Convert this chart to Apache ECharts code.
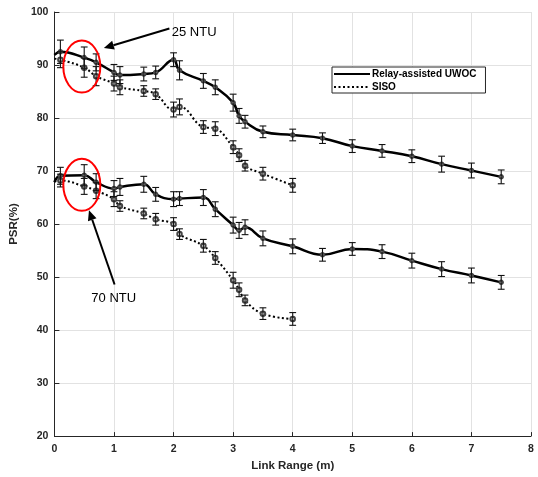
<!DOCTYPE html>
<html>
<head>
<meta charset="UTF-8">
<title>PSR vs Link Range</title>
<script src="https://cdn.jsdelivr.net/npm/echarts@6/dist/echarts.min.js"></script>
<style>
  html, body { margin: 0; padding: 0; background: #fff; }
  #main { width: 538px; height: 477px; }
</style>
</head>
<body>
<div id="main"></div>
<script>
// link range (m)
var xRelay = [0, 0.1, 0.5, 0.7, 1.0, 1.1, 1.5, 1.7, 2.0, 2.1, 2.5, 2.7, 3.0, 3.1, 3.2, 3.5, 4.0, 4.5, 5.0, 5.5, 6.0, 6.5, 7.0, 7.5];
var xSiso = [0, 0.1, 0.5, 0.7, 1.0, 1.1, 1.5, 1.7, 2.0, 2.1, 2.5, 2.7, 3.0, 3.1, 3.2, 3.5, 4.0];

// 25 NTU
var relay25 = [91.9, 92.5, 91.4, 90.5, 88.6, 88.1, 88.3, 88.6, 91.0, 89.0, 87.0, 85.8, 82.9, 80.4, 79.3, 77.4, 76.8, 76.2, 74.7, 73.8, 72.8, 71.3, 70.1, 68.9];
var relay25Err = [null, 2.2, 2.0, 1.6, 1.5, 1.6, 1.3, 1.2, 1.3, 1.8, 1.4, 1.4, 1.6, 1.4, 1.2, 1.1, 1.1, 1.0, 1.2, 1.2, 1.2, 1.5, 1.4, 1.3];
var siso25 = [91.2, 91.0, 89.5, 87.9, 86.5, 85.8, 85.1, 84.5, 81.6, 82.1, 78.3, 78.0, 74.5, 73.0, 71.0, 69.5, 67.3];
var siso25Err = [null, 1.5, 1.8, 1.8, 1.4, 1.4, 1.0, 1.0, 1.4, 1.5, 1.2, 1.3, 1.2, 1.2, 1.0, 1.2, 1.3];

// 70 NTU
var relay70 = [67.9, 69.1, 69.2, 67.9, 66.7, 67.0, 67.5, 65.6, 64.7, 64.8, 65.0, 62.8, 59.8, 58.8, 59.4, 57.3, 55.8, 54.2, 55.3, 54.8, 53.1, 51.5, 50.3, 49.0];
var relay70Err = [null, 1.6, 2.0, 1.6, 1.5, 1.6, 1.5, 1.3, 1.4, 1.3, 1.5, 1.4, 1.5, 1.5, 1.4, 1.4, 1.4, 1.2, 1.2, 1.3, 1.4, 1.4, 1.4, 1.3];
var siso70 = [68.0, 68.2, 67.1, 66.3, 64.7, 63.4, 62.0, 60.9, 60.0, 58.1, 55.9, 53.6, 49.4, 47.6, 45.6, 43.1, 42.1];
var siso70Err = [null, 1.2, 1.5, 1.5, 1.4, 1.0, 1.0, 1.1, 1.2, 1.0, 1.2, 1.2, 1.5, 1.3, 1.0, 1.1, 1.2];

var xTicks = [0, 1, 2, 3, 4, 5, 6, 7, 8];
var yTicks = [20, 30, 40, 50, 60, 70, 80, 90, 100];

// annotations in data units
var ellipses = [
    {x: 0.46, y: 89.7},
    {x: 0.46, y: 67.4}
];
var arrows = [
    {from: [1.93, 96.9], to: [0.83, 93.2], text: '25 NTU', tx: 1.97, ty: 96.1},
    {from: [1.01, 48.6], to: [0.58, 62.6], text: '70 NTU', tx: 0.62, ty: 46.0}
];

var myChart = echarts.init(document.getElementById('main'));

function pairs(xs, ys) {
    var res = [];
    for (var i = 0; i < ys.length; i++) {
        if (i === 0) {
            res.push({value: [xs[i], ys[i]], symbol: 'none'});
        } else {
            res.push([xs[i], ys[i]]);
        }
    }
    return res;
}

function errData(xs, ys, es) {
    var res = [];
    for (var i = 0; i < ys.length; i++) {
        if (es[i] != null) res.push([xs[i], ys[i], es[i]]);
    }
    return res;
}

function renderErr(params, api) {
    var x = api.value(0), y = api.value(1), e = api.value(2);
    var hi = api.coord([x, y + e]);
    var lo = api.coord([x, y - e]);
    var hw = 3.4;
    var st = {stroke: '#111', lineWidth: 1.1};
    return {
        type: 'group',
        children: [
            {type: 'line', shape: {x1: hi[0], y1: hi[1], x2: lo[0], y2: lo[1]}, style: st},
            {type: 'line', shape: {x1: hi[0] - hw, y1: hi[1], x2: hi[0] + hw, y2: hi[1]}, style: st},
            {type: 'line', shape: {x1: lo[0] - hw, y1: lo[1], x2: lo[0] + hw, y2: lo[1]}, style: st}
        ]
    };
}

function solidSeries(data) {
    return {
        name: 'Relay-assisted UWOC',
        type: 'line',
        data: data,
        smooth: 0.45,
        symbol: 'emptyCircle',
        symbolSize: 3.5,
        lineStyle: {color: '#000', width: 2.5},
        itemStyle: {color: '#444', borderWidth: 0.8},
        z: 3
    };
}

function dottedSeries(data) {
    return {
        name: 'SISO',
        type: 'line',
        data: data,
        smooth: 0.45,
        symbol: 'emptyCircle',
        symbolSize: 4.5,
        lineStyle: {color: '#000', width: 2, type: [2, 2.5]},
        itemStyle: {color: '#444', borderWidth: 0.8},
        z: 3
    };
}

function errSeries(data) {
    return {
        type: 'custom',
        renderItem: renderErr,
        data: data,
        silent: true,
        z: 4
    };
}

var labelFont = {color: '#262626', fontWeight: 'bold', fontSize: 10.5, fontFamily: 'Liberation Sans, Arial, sans-serif'};

var option = {
    animation: false,
    backgroundColor: '#fff',
    grid: {left: 54, right: 7, top: 12, bottom: 38},
    legend: {
        data: ['Relay-assisted UWOC', 'SISO'],
        orient: 'vertical',
        left: 332,
        top: 67,
        itemWidth: 36,
        itemHeight: 10,
        itemGap: 3,
        padding: [2, 9, 1, 1],
        borderColor: '#262626',
        borderWidth: 1,
        backgroundColor: '#fff',
        itemStyle: {opacity: 0},
        textStyle: {color: '#000', fontWeight: 'bold', fontSize: 10, fontFamily: 'Liberation Sans, Arial, sans-serif', padding: [0, 0, 0, -3]}
    },
    xAxis: {
        type: 'value',
        min: xTicks[0],
        max: xTicks[xTicks.length - 1],
        interval: 1,
        name: 'Link Range (m)',
        nameLocation: 'middle',
        nameGap: 22,
        nameTextStyle: {color: '#262626', fontWeight: 'bold', fontSize: 11.5, fontFamily: 'Liberation Sans, Arial, sans-serif'},
        axisLine: {lineStyle: {color: '#262626', width: 1}},
        axisTick: {inside: true, length: 4, lineStyle: {color: '#262626'}},
        axisLabel: Object.assign({margin: 8}, labelFont),
        splitLine: {show: true, lineStyle: {color: '#e2e2e2', width: 1}}
    },
    yAxis: {
        type: 'value',
        min: yTicks[0],
        max: yTicks[yTicks.length - 1],
        interval: 10,
        name: 'PSR(%)',
        nameLocation: 'middle',
        nameGap: 33,
        nameTextStyle: {color: '#262626', fontWeight: 'bold', fontSize: 11.5, fontFamily: 'Liberation Sans, Arial, sans-serif'},
        axisLine: {show: true, lineStyle: {color: '#262626', width: 1}},
        axisTick: {show: true, inside: true, length: 5, lineStyle: {color: '#262626'}},
        axisLabel: Object.assign({margin: 6}, labelFont),
        splitLine: {show: true, lineStyle: {color: '#e2e2e2', width: 1}}
    },
    series: [
        solidSeries(pairs(xRelay, relay25)),
        dottedSeries(pairs(xSiso, siso25)),
        solidSeries(pairs(xRelay, relay70)),
        dottedSeries(pairs(xSiso, siso70)),
        errSeries(errData(xRelay, relay25, relay25Err)),
        errSeries(errData(xSiso, siso25, siso25Err)),
        errSeries(errData(xRelay, relay70, relay70Err)),
        errSeries(errData(xSiso, siso70, siso70Err))
    ]
};

myChart.setOption(option);

// annotations: red ellipses, arrows and labels
var graphics = [];
ellipses.forEach(function (el) {
    var c = myChart.convertToPixel('grid', [el.x, el.y]);
    graphics.push({
        type: 'ellipse',
        shape: {cx: c[0], cy: c[1], rx: 18.5, ry: 26},
        style: {fill: 'none', stroke: '#ff0000', lineWidth: 2},
        z: 10
    });
});
arrows.forEach(function (a) {
    var p0 = myChart.convertToPixel('grid', a.from);
    var p1 = myChart.convertToPixel('grid', a.to);
    var ang = Math.atan2(p1[1] - p0[1], p1[0] - p0[0]);
    var len = 10, wid = 4.5;
    var bx = p1[0] - len * Math.cos(ang), by = p1[1] - len * Math.sin(ang);
    var nx = -Math.sin(ang), ny = Math.cos(ang);
    graphics.push({
        type: 'line',
        shape: {x1: p0[0], y1: p0[1], x2: bx, y2: by},
        style: {stroke: '#000', lineWidth: 2},
        z: 10
    });
    graphics.push({
        type: 'polygon',
        shape: {points: [[p1[0], p1[1]], [bx + nx * wid, by + ny * wid], [bx - nx * wid, by - ny * wid]]},
        style: {fill: '#000'},
        z: 10
    });
    var t = myChart.convertToPixel('grid', [a.tx, a.ty]);
    graphics.push({
        type: 'text',
        x: t[0],
        y: t[1],
        style: {text: a.text, fill: '#000', font: '13px Liberation Sans, Arial, sans-serif', verticalAlign: 'middle'},
        z: 10
    });
});
myChart.setOption({graphic: graphics});
</script>
</body>
</html>
